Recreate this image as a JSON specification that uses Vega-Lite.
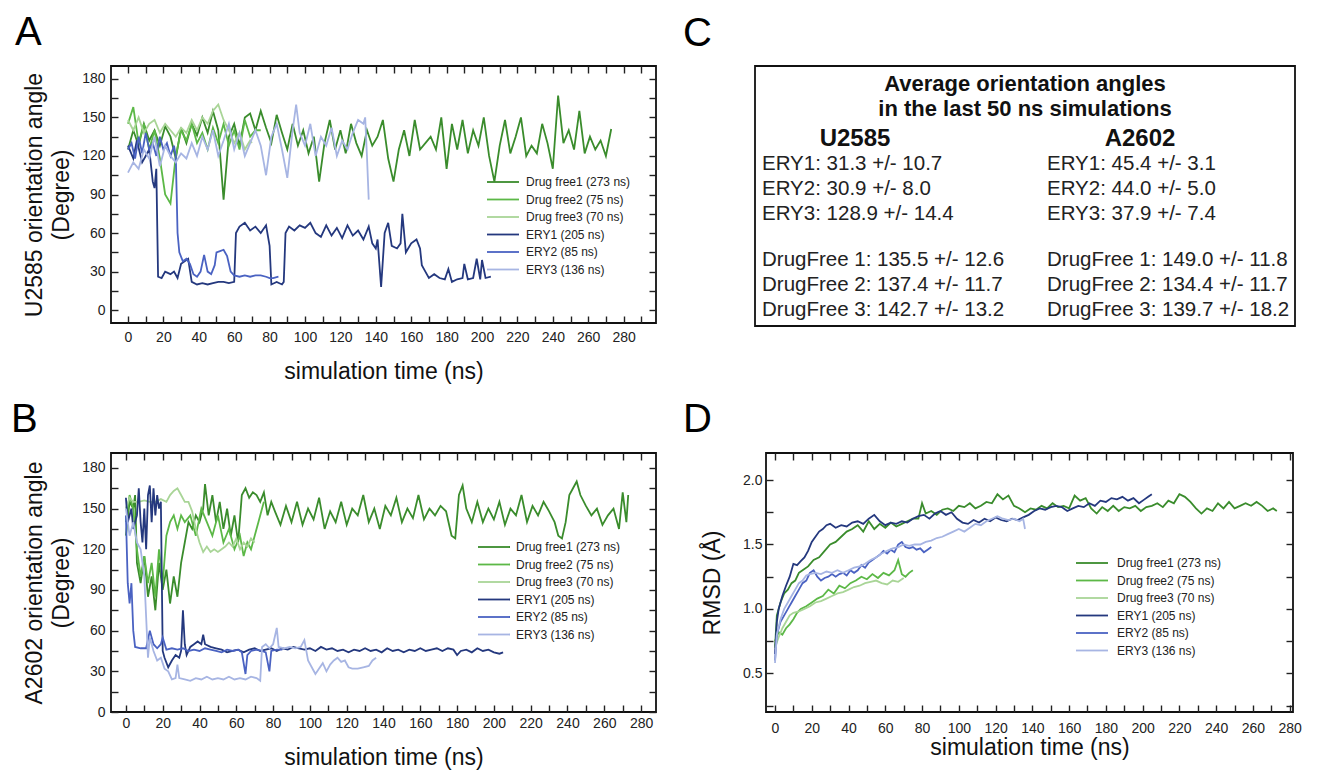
{
"$schema":"https://vega.github.io/schema/vega-lite/v6.json",
"background":"white",
"padding":{"left":10,"top":12,"right":0,"bottom":0},
"config":{
"font":"Liberation Sans",
"view":{"stroke":"#111","strokeWidth":1.8},
"axis":{"grid":false,"domain":false,"ticks":true,"tickColor":"#222","tickSize":-7,"tickWidth":1.4,"labelFontSize":14,"labelColor":"#222","titleFontSize":23,"titleFontWeight":"normal","titleColor":"#111","labelFlush":false,"labelOverlap":false},
"axisX":{"labelPadding":14,"titlePadding":16},
"axisY":{"labelPadding":13,"titlePadding":8},
"legend":{"symbolType":"M-2,0H2","symbolSize":256,"symbolStrokeWidth":2,"labelFontSize":12,"labelColor":"#222","rowPadding":2.5,"padding":0,"labelOffset":14},
"title":{"fontSize":40,"fontWeight":"normal","anchor":"start","frame":"group","color":"#000","offset":12,"baseline":"alphabetic"},
"line":{"strokeWidth":1.8}
},
"datasets":{
"names":[{"s":"d1","name":"Drug free1 (273 ns)"},{"s":"d2","name":"Drug free2 (75 ns)"},{"s":"d3","name":"Drug free3 (70 ns)"},{"s":"e1","name":"ERY1 (205 ns)"},{"s":"e2","name":"ERY2 (85 ns)"},{"s":"e3","name":"ERY3 (136 ns)"}],
"table":[
{"kind":"title","row":"t1","col":"U2585","label":"Average orientation angles"},
{"kind":"title","row":"t2","col":"U2585","label":"in the last 50 ns simulations"},
{"kind":"head","row":"h","col":"U2585","label":"U2585"},
{"kind":"head","row":"h","col":"A2602","label":"A2602"},
{"kind":"ery","row":"e1","col":"U2585","label":"ERY1: 31.3 +/- 10.7"},
{"kind":"ery","row":"e2","col":"U2585","label":"ERY2: 30.9 +/- 8.0"},
{"kind":"ery","row":"e3","col":"U2585","label":"ERY3: 128.9 +/- 14.4"},
{"kind":"free","row":"d1","col":"U2585","label":"DrugFree 1: 135.5 +/- 12.6"},
{"kind":"free","row":"d2","col":"U2585","label":"DrugFree 2: 137.4 +/- 11.7"},
{"kind":"free","row":"d3","col":"U2585","label":"DrugFree 3: 142.7 +/- 13.2"},
{"kind":"ery","row":"e1","col":"A2602","label":"ERY1: 45.4 +/- 3.1"},
{"kind":"ery","row":"e2","col":"A2602","label":"ERY2: 44.0 +/- 5.0"},
{"kind":"ery","row":"e3","col":"A2602","label":"ERY3: 37.9 +/- 7.4"},
{"kind":"free","row":"d1","col":"A2602","label":"DrugFree 1: 149.0 +/- 11.8"},
{"kind":"free","row":"d2","col":"A2602","label":"DrugFree 2: 134.4 +/- 11.7"},
{"kind":"free","row":"d3","col":"A2602","label":"DrugFree 3: 139.7 +/- 18.2"}
],
"A":[
{"s":"d1","t":0,"v":125},{"s":"d1","t":3,"v":140},{"s":"d1","t":6,"v":128},{"s":"d1","t":9,"v":145},{"s":"d1","t":12,"v":132},{"s":"d1","t":15,"v":140},{"s":"d1","t":18,"v":128},{"s":"d1","t":21,"v":143},{"s":"d1","t":24,"v":135},{"s":"d1","t":27,"v":118},{"s":"d1","t":30,"v":142},{"s":"d1","t":33,"v":130},{"s":"d1","t":36,"v":145},{"s":"d1","t":39,"v":136},{"s":"d1","t":42,"v":150},{"s":"d1","t":45,"v":138},{"s":"d1","t":48,"v":155},{"s":"d1","t":51,"v":140},{"s":"d1","t":54,"v":86},{"s":"d1","t":57,"v":135},{"s":"d1","t":60,"v":145},{"s":"d1","t":63,"v":128},{"s":"d1","t":66,"v":150},{"s":"d1","t":69,"v":153},{"s":"d1","t":72,"v":140},{"s":"d1","t":75,"v":155},{"s":"d1","t":78,"v":142},{"s":"d1","t":81,"v":130},{"s":"d1","t":84,"v":152},{"s":"d1","t":87,"v":138},{"s":"d1","t":90,"v":125},{"s":"d1","t":93,"v":145},{"s":"d1","t":96,"v":128},{"s":"d1","t":99,"v":140},{"s":"d1","t":102,"v":122},{"s":"d1","t":105,"v":135},{"s":"d1","t":108,"v":100},{"s":"d1","t":111,"v":130},{"s":"d1","t":114,"v":148},{"s":"d1","t":117,"v":125},{"s":"d1","t":120,"v":140},{"s":"d1","t":123,"v":122},{"s":"d1","t":126,"v":145},{"s":"d1","t":129,"v":130},{"s":"d1","t":132,"v":120},{"s":"d1","t":135,"v":140},{"s":"d1","t":138,"v":128},{"s":"d1","t":141,"v":135},{"s":"d1","t":144,"v":148},{"s":"d1","t":147,"v":118},{"s":"d1","t":150,"v":100},{"s":"d1","t":153,"v":125},{"s":"d1","t":156,"v":140},{"s":"d1","t":159,"v":120},{"s":"d1","t":162,"v":148},{"s":"d1","t":165,"v":125},{"s":"d1","t":168,"v":130},{"s":"d1","t":171,"v":135},{"s":"d1","t":174,"v":125},{"s":"d1","t":177,"v":150},{"s":"d1","t":180,"v":110},{"s":"d1","t":183,"v":145},{"s":"d1","t":186,"v":125},{"s":"d1","t":189,"v":148},{"s":"d1","t":192,"v":122},{"s":"d1","t":195,"v":140},{"s":"d1","t":198,"v":128},{"s":"d1","t":201,"v":150},{"s":"d1","t":204,"v":120},{"s":"d1","t":207,"v":100},{"s":"d1","t":210,"v":128},{"s":"d1","t":213,"v":148},{"s":"d1","t":216,"v":122},{"s":"d1","t":219,"v":135},{"s":"d1","t":222,"v":150},{"s":"d1","t":225,"v":120},{"s":"d1","t":228,"v":128},{"s":"d1","t":231,"v":122},{"s":"d1","t":234,"v":145},{"s":"d1","t":237,"v":130},{"s":"d1","t":240,"v":110},{"s":"d1","t":243,"v":167},{"s":"d1","t":246,"v":130},{"s":"d1","t":249,"v":140},{"s":"d1","t":252,"v":125},{"s":"d1","t":255,"v":155},{"s":"d1","t":258,"v":122},{"s":"d1","t":261,"v":135},{"s":"d1","t":264,"v":125},{"s":"d1","t":267,"v":132},{"s":"d1","t":270,"v":120},{"s":"d1","t":273,"v":141},
{"s":"d2","t":0,"v":145},{"s":"d2","t":3,"v":158},{"s":"d2","t":6,"v":130},{"s":"d2","t":9,"v":145},{"s":"d2","t":12,"v":125},{"s":"d2","t":15,"v":140},{"s":"d2","t":18,"v":118},{"s":"d2","t":21,"v":90},{"s":"d2","t":24,"v":83},{"s":"d2","t":27,"v":120},{"s":"d2","t":30,"v":140},{"s":"d2","t":33,"v":132},{"s":"d2","t":36,"v":145},{"s":"d2","t":39,"v":130},{"s":"d2","t":42,"v":138},{"s":"d2","t":45,"v":125},{"s":"d2","t":48,"v":142},{"s":"d2","t":51,"v":130},{"s":"d2","t":54,"v":145},{"s":"d2","t":57,"v":128},{"s":"d2","t":60,"v":140},{"s":"d2","t":63,"v":125},{"s":"d2","t":66,"v":148},{"s":"d2","t":69,"v":135},{"s":"d2","t":72,"v":140},{"s":"d2","t":75,"v":140},
{"s":"d3","t":0,"v":148},{"s":"d3","t":3,"v":140},{"s":"d3","t":6,"v":150},{"s":"d3","t":9,"v":138},{"s":"d3","t":12,"v":145},{"s":"d3","t":15,"v":148},{"s":"d3","t":18,"v":138},{"s":"d3","t":21,"v":145},{"s":"d3","t":24,"v":140},{"s":"d3","t":27,"v":135},{"s":"d3","t":30,"v":142},{"s":"d3","t":33,"v":138},{"s":"d3","t":36,"v":148},{"s":"d3","t":39,"v":140},{"s":"d3","t":42,"v":150},{"s":"d3","t":45,"v":145},{"s":"d3","t":48,"v":155},{"s":"d3","t":51,"v":160},{"s":"d3","t":54,"v":148},{"s":"d3","t":57,"v":140},{"s":"d3","t":60,"v":130},{"s":"d3","t":63,"v":138},{"s":"d3","t":66,"v":125},{"s":"d3","t":69,"v":132},{"s":"d3","t":70,"v":130},
{"s":"e1","t":0,"v":128},{"s":"e1","t":3,"v":118},{"s":"e1","t":5,"v":132},{"s":"e1","t":8,"v":115},{"s":"e1","t":10,"v":120},{"s":"e1","t":12,"v":125},{"s":"e1","t":14,"v":100},{"s":"e1","t":15,"v":95},{"s":"e1","t":16,"v":110},{"s":"e1","t":17,"v":26},{"s":"e1","t":19,"v":25},{"s":"e1","t":21,"v":30},{"s":"e1","t":24,"v":28},{"s":"e1","t":26,"v":30},{"s":"e1","t":28,"v":25},{"s":"e1","t":30,"v":36},{"s":"e1","t":32,"v":38},{"s":"e1","t":34,"v":40},{"s":"e1","t":36,"v":22},{"s":"e1","t":39,"v":20},{"s":"e1","t":42,"v":21},{"s":"e1","t":45,"v":20},{"s":"e1","t":48,"v":21},{"s":"e1","t":51,"v":22},{"s":"e1","t":54,"v":22},{"s":"e1","t":57,"v":21},{"s":"e1","t":60,"v":22},{"s":"e1","t":61,"v":60},{"s":"e1","t":63,"v":65},{"s":"e1","t":66,"v":68},{"s":"e1","t":69,"v":62},{"s":"e1","t":72,"v":65},{"s":"e1","t":75,"v":60},{"s":"e1","t":78,"v":66},{"s":"e1","t":80,"v":50},{"s":"e1","t":81,"v":20},{"s":"e1","t":84,"v":22},{"s":"e1","t":87,"v":20},{"s":"e1","t":88,"v":22},{"s":"e1","t":89,"v":60},{"s":"e1","t":91,"v":65},{"s":"e1","t":94,"v":62},{"s":"e1","t":97,"v":66},{"s":"e1","t":100,"v":64},{"s":"e1","t":103,"v":68},{"s":"e1","t":106,"v":60},{"s":"e1","t":109,"v":57},{"s":"e1","t":112,"v":66},{"s":"e1","t":115,"v":58},{"s":"e1","t":118,"v":64},{"s":"e1","t":121,"v":56},{"s":"e1","t":124,"v":66},{"s":"e1","t":127,"v":58},{"s":"e1","t":130,"v":62},{"s":"e1","t":133,"v":55},{"s":"e1","t":136,"v":65},{"s":"e1","t":138,"v":52},{"s":"e1","t":140,"v":48},{"s":"e1","t":141,"v":55},{"s":"e1","t":143,"v":18},{"s":"e1","t":145,"v":60},{"s":"e1","t":147,"v":68},{"s":"e1","t":149,"v":50},{"s":"e1","t":152,"v":48},{"s":"e1","t":154,"v":52},{"s":"e1","t":155,"v":75},{"s":"e1","t":157,"v":45},{"s":"e1","t":160,"v":52},{"s":"e1","t":163,"v":55},{"s":"e1","t":165,"v":48},{"s":"e1","t":166,"v":35},{"s":"e1","t":168,"v":30},{"s":"e1","t":170,"v":25},{"s":"e1","t":173,"v":28},{"s":"e1","t":176,"v":25},{"s":"e1","t":179,"v":24},{"s":"e1","t":181,"v":32},{"s":"e1","t":183,"v":22},{"s":"e1","t":186,"v":24},{"s":"e1","t":189,"v":25},{"s":"e1","t":190,"v":36},{"s":"e1","t":192,"v":24},{"s":"e1","t":195,"v":25},{"s":"e1","t":197,"v":40},{"s":"e1","t":199,"v":24},{"s":"e1","t":200,"v":39},{"s":"e1","t":202,"v":25},{"s":"e1","t":205,"v":26},
{"s":"e2","t":0,"v":125},{"s":"e2","t":2,"v":130},{"s":"e2","t":4,"v":118},{"s":"e2","t":6,"v":135},{"s":"e2","t":8,"v":122},{"s":"e2","t":10,"v":138},{"s":"e2","t":12,"v":125},{"s":"e2","t":14,"v":130},{"s":"e2","t":16,"v":120},{"s":"e2","t":18,"v":135},{"s":"e2","t":20,"v":125},{"s":"e2","t":22,"v":130},{"s":"e2","t":24,"v":120},{"s":"e2","t":26,"v":128},{"s":"e2","t":27,"v":120},{"s":"e2","t":28,"v":60},{"s":"e2","t":29,"v":45},{"s":"e2","t":31,"v":38},{"s":"e2","t":33,"v":40},{"s":"e2","t":35,"v":36},{"s":"e2","t":37,"v":28},{"s":"e2","t":39,"v":26},{"s":"e2","t":41,"v":30},{"s":"e2","t":43,"v":43},{"s":"e2","t":45,"v":30},{"s":"e2","t":47,"v":28},{"s":"e2","t":49,"v":35},{"s":"e2","t":50,"v":45},{"s":"e2","t":52,"v":46},{"s":"e2","t":54,"v":47},{"s":"e2","t":56,"v":42},{"s":"e2","t":58,"v":30},{"s":"e2","t":60,"v":27},{"s":"e2","t":63,"v":26},{"s":"e2","t":66,"v":27},{"s":"e2","t":69,"v":26},{"s":"e2","t":72,"v":27},{"s":"e2","t":75,"v":27},{"s":"e2","t":78,"v":26},{"s":"e2","t":80,"v":25},{"s":"e2","t":82,"v":25},{"s":"e2","t":85,"v":26},
{"s":"e3","t":0,"v":107},{"s":"e3","t":3,"v":115},{"s":"e3","t":6,"v":110},{"s":"e3","t":9,"v":125},{"s":"e3","t":12,"v":118},{"s":"e3","t":15,"v":135},{"s":"e3","t":18,"v":112},{"s":"e3","t":21,"v":128},{"s":"e3","t":24,"v":120},{"s":"e3","t":27,"v":115},{"s":"e3","t":30,"v":122},{"s":"e3","t":33,"v":118},{"s":"e3","t":36,"v":130},{"s":"e3","t":39,"v":120},{"s":"e3","t":42,"v":135},{"s":"e3","t":45,"v":125},{"s":"e3","t":48,"v":140},{"s":"e3","t":51,"v":120},{"s":"e3","t":54,"v":132},{"s":"e3","t":57,"v":145},{"s":"e3","t":60,"v":125},{"s":"e3","t":63,"v":138},{"s":"e3","t":66,"v":120},{"s":"e3","t":69,"v":130},{"s":"e3","t":72,"v":140},{"s":"e3","t":75,"v":128},{"s":"e3","t":78,"v":105},{"s":"e3","t":81,"v":135},{"s":"e3","t":84,"v":145},{"s":"e3","t":87,"v":125},{"s":"e3","t":90,"v":103},{"s":"e3","t":93,"v":140},{"s":"e3","t":95,"v":160},{"s":"e3","t":97,"v":138},{"s":"e3","t":100,"v":128},{"s":"e3","t":103,"v":145},{"s":"e3","t":106,"v":120},{"s":"e3","t":109,"v":135},{"s":"e3","t":112,"v":128},{"s":"e3","t":115,"v":142},{"s":"e3","t":118,"v":120},{"s":"e3","t":121,"v":132},{"s":"e3","t":124,"v":125},{"s":"e3","t":127,"v":138},{"s":"e3","t":130,"v":148},{"s":"e3","t":133,"v":145},{"s":"e3","t":134,"v":150},{"s":"e3","t":135,"v":120},{"s":"e3","t":136,"v":86}
],
"B":[
{"s":"d1","t":0,"v":130},{"s":"d1","t":2,"v":155},{"s":"d1","t":4,"v":150},{"s":"d1","t":5,"v":160},{"s":"d1","t":6,"v":110},{"s":"d1","t":8,"v":95},{"s":"d1","t":10,"v":115},{"s":"d1","t":12,"v":85},{"s":"d1","t":14,"v":100},{"s":"d1","t":16,"v":75},{"s":"d1","t":18,"v":110},{"s":"d1","t":20,"v":90},{"s":"d1","t":22,"v":105},{"s":"d1","t":24,"v":80},{"s":"d1","t":26,"v":100},{"s":"d1","t":28,"v":85},{"s":"d1","t":30,"v":110},{"s":"d1","t":32,"v":125},{"s":"d1","t":34,"v":140},{"s":"d1","t":36,"v":135},{"s":"d1","t":38,"v":145},{"s":"d1","t":40,"v":140},{"s":"d1","t":42,"v":150},{"s":"d1","t":43,"v":168},{"s":"d1","t":45,"v":145},{"s":"d1","t":47,"v":160},{"s":"d1","t":49,"v":140},{"s":"d1","t":51,"v":155},{"s":"d1","t":53,"v":135},{"s":"d1","t":55,"v":150},{"s":"d1","t":57,"v":130},{"s":"d1","t":59,"v":145},{"s":"d1","t":61,"v":125},{"s":"d1","t":63,"v":160},{"s":"d1","t":65,"v":165},{"s":"d1","t":67,"v":158},{"s":"d1","t":69,"v":162},{"s":"d1","t":71,"v":160},{"s":"d1","t":73,"v":155},{"s":"d1","t":75,"v":162},{"s":"d1","t":77,"v":145},{"s":"d1","t":79,"v":155},{"s":"d1","t":81,"v":148},{"s":"d1","t":84,"v":138},{"s":"d1","t":87,"v":152},{"s":"d1","t":90,"v":140},{"s":"d1","t":93,"v":155},{"s":"d1","t":96,"v":138},{"s":"d1","t":99,"v":150},{"s":"d1","t":102,"v":142},{"s":"d1","t":105,"v":158},{"s":"d1","t":108,"v":135},{"s":"d1","t":111,"v":148},{"s":"d1","t":114,"v":140},{"s":"d1","t":117,"v":155},{"s":"d1","t":120,"v":138},{"s":"d1","t":123,"v":150},{"s":"d1","t":126,"v":145},{"s":"d1","t":129,"v":160},{"s":"d1","t":132,"v":140},{"s":"d1","t":135,"v":150},{"s":"d1","t":138,"v":135},{"s":"d1","t":141,"v":152},{"s":"d1","t":144,"v":145},{"s":"d1","t":147,"v":158},{"s":"d1","t":150,"v":140},{"s":"d1","t":153,"v":150},{"s":"d1","t":156,"v":143},{"s":"d1","t":159,"v":160},{"s":"d1","t":162,"v":142},{"s":"d1","t":165,"v":150},{"s":"d1","t":168,"v":145},{"s":"d1","t":171,"v":152},{"s":"d1","t":174,"v":148},{"s":"d1","t":177,"v":130},{"s":"d1","t":179,"v":128},{"s":"d1","t":181,"v":160},{"s":"d1","t":183,"v":167},{"s":"d1","t":185,"v":150},{"s":"d1","t":188,"v":140},{"s":"d1","t":191,"v":155},{"s":"d1","t":194,"v":140},{"s":"d1","t":197,"v":150},{"s":"d1","t":200,"v":142},{"s":"d1","t":203,"v":155},{"s":"d1","t":206,"v":138},{"s":"d1","t":209,"v":150},{"s":"d1","t":212,"v":145},{"s":"d1","t":215,"v":160},{"s":"d1","t":218,"v":140},{"s":"d1","t":221,"v":152},{"s":"d1","t":224,"v":145},{"s":"d1","t":227,"v":155},{"s":"d1","t":230,"v":148},{"s":"d1","t":233,"v":140},{"s":"d1","t":235,"v":130},{"s":"d1","t":237,"v":128},{"s":"d1","t":239,"v":140},{"s":"d1","t":241,"v":160},{"s":"d1","t":243,"v":165},{"s":"d1","t":245,"v":170},{"s":"d1","t":247,"v":160},{"s":"d1","t":250,"v":152},{"s":"d1","t":253,"v":145},{"s":"d1","t":256,"v":150},{"s":"d1","t":259,"v":138},{"s":"d1","t":262,"v":145},{"s":"d1","t":265,"v":150},{"s":"d1","t":268,"v":135},{"s":"d1","t":270,"v":162},{"s":"d1","t":272,"v":140},{"s":"d1","t":273,"v":160},
{"s":"d2","t":0,"v":140},{"s":"d2","t":2,"v":160},{"s":"d2","t":4,"v":150},{"s":"d2","t":6,"v":120},{"s":"d2","t":8,"v":100},{"s":"d2","t":10,"v":115},{"s":"d2","t":12,"v":95},{"s":"d2","t":14,"v":110},{"s":"d2","t":16,"v":85},{"s":"d2","t":18,"v":120},{"s":"d2","t":20,"v":95},{"s":"d2","t":22,"v":130},{"s":"d2","t":24,"v":140},{"s":"d2","t":26,"v":145},{"s":"d2","t":28,"v":135},{"s":"d2","t":30,"v":145},{"s":"d2","t":32,"v":140},{"s":"d2","t":35,"v":145},{"s":"d2","t":38,"v":130},{"s":"d2","t":41,"v":150},{"s":"d2","t":44,"v":140},{"s":"d2","t":47,"v":130},{"s":"d2","t":50,"v":145},{"s":"d2","t":53,"v":125},{"s":"d2","t":56,"v":135},{"s":"d2","t":59,"v":120},{"s":"d2","t":62,"v":130},{"s":"d2","t":64,"v":115},{"s":"d2","t":66,"v":125},{"s":"d2","t":68,"v":120},{"s":"d2","t":70,"v":130},{"s":"d2","t":72,"v":140},{"s":"d2","t":74,"v":150},{"s":"d2","t":75,"v":155},
{"s":"d3","t":0,"v":150},{"s":"d3","t":2,"v":158},{"s":"d3","t":4,"v":155},{"s":"d3","t":7,"v":155},{"s":"d3","t":10,"v":156},{"s":"d3","t":13,"v":155},{"s":"d3","t":16,"v":155},{"s":"d3","t":19,"v":157},{"s":"d3","t":22,"v":155},{"s":"d3","t":24,"v":160},{"s":"d3","t":26,"v":163},{"s":"d3","t":28,"v":165},{"s":"d3","t":30,"v":160},{"s":"d3","t":32,"v":155},{"s":"d3","t":34,"v":155},{"s":"d3","t":36,"v":148},{"s":"d3","t":38,"v":135},{"s":"d3","t":40,"v":125},{"s":"d3","t":42,"v":118},{"s":"d3","t":44,"v":122},{"s":"d3","t":46,"v":118},{"s":"d3","t":48,"v":120},{"s":"d3","t":50,"v":118},{"s":"d3","t":52,"v":120},{"s":"d3","t":54,"v":122},{"s":"d3","t":56,"v":125},{"s":"d3","t":58,"v":122},{"s":"d3","t":60,"v":128},{"s":"d3","t":62,"v":120},{"s":"d3","t":64,"v":125},{"s":"d3","t":66,"v":122},{"s":"d3","t":68,"v":128},{"s":"d3","t":70,"v":125},
{"s":"e1","t":0,"v":158},{"s":"e1","t":1,"v":140},{"s":"e1","t":3,"v":150},{"s":"e1","t":4,"v":135},{"s":"e1","t":6,"v":145},{"s":"e1","t":7,"v":165},{"s":"e1","t":8,"v":140},{"s":"e1","t":9,"v":125},{"s":"e1","t":10,"v":150},{"s":"e1","t":11,"v":120},{"s":"e1","t":12,"v":160},{"s":"e1","t":13,"v":167},{"s":"e1","t":14,"v":140},{"s":"e1","t":15,"v":165},{"s":"e1","t":16,"v":145},{"s":"e1","t":17,"v":160},{"s":"e1","t":18,"v":150},{"s":"e1","t":19,"v":155},{"s":"e1","t":20,"v":45},{"s":"e1","t":21,"v":40},{"s":"e1","t":23,"v":33},{"s":"e1","t":25,"v":38},{"s":"e1","t":27,"v":42},{"s":"e1","t":29,"v":40},{"s":"e1","t":30,"v":45},{"s":"e1","t":31,"v":75},{"s":"e1","t":32,"v":50},{"s":"e1","t":33,"v":42},{"s":"e1","t":35,"v":48},{"s":"e1","t":37,"v":50},{"s":"e1","t":39,"v":52},{"s":"e1","t":41,"v":50},{"s":"e1","t":42,"v":57},{"s":"e1","t":43,"v":50},{"s":"e1","t":46,"v":48},{"s":"e1","t":49,"v":47},{"s":"e1","t":52,"v":46},{"s":"e1","t":55,"v":44},{"s":"e1","t":58,"v":45},{"s":"e1","t":61,"v":46},{"s":"e1","t":64,"v":44},{"s":"e1","t":67,"v":46},{"s":"e1","t":70,"v":47},{"s":"e1","t":73,"v":45},{"s":"e1","t":76,"v":46},{"s":"e1","t":79,"v":47},{"s":"e1","t":82,"v":45},{"s":"e1","t":85,"v":47},{"s":"e1","t":88,"v":46},{"s":"e1","t":91,"v":48},{"s":"e1","t":94,"v":47},{"s":"e1","t":97,"v":46},{"s":"e1","t":100,"v":47},{"s":"e1","t":103,"v":45},{"s":"e1","t":106,"v":48},{"s":"e1","t":109,"v":46},{"s":"e1","t":112,"v":47},{"s":"e1","t":115,"v":45},{"s":"e1","t":118,"v":46},{"s":"e1","t":121,"v":44},{"s":"e1","t":124,"v":46},{"s":"e1","t":127,"v":45},{"s":"e1","t":130,"v":47},{"s":"e1","t":133,"v":45},{"s":"e1","t":136,"v":46},{"s":"e1","t":139,"v":44},{"s":"e1","t":142,"v":47},{"s":"e1","t":145,"v":45},{"s":"e1","t":148,"v":46},{"s":"e1","t":151,"v":44},{"s":"e1","t":154,"v":46},{"s":"e1","t":157,"v":45},{"s":"e1","t":160,"v":47},{"s":"e1","t":163,"v":45},{"s":"e1","t":166,"v":46},{"s":"e1","t":169,"v":47},{"s":"e1","t":172,"v":45},{"s":"e1","t":175,"v":47},{"s":"e1","t":178,"v":46},{"s":"e1","t":180,"v":42},{"s":"e1","t":182,"v":45},{"s":"e1","t":185,"v":46},{"s":"e1","t":188,"v":44},{"s":"e1","t":191,"v":47},{"s":"e1","t":194,"v":45},{"s":"e1","t":197,"v":46},{"s":"e1","t":200,"v":44},{"s":"e1","t":203,"v":43},{"s":"e1","t":205,"v":44},
{"s":"e2","t":0,"v":145},{"s":"e2","t":1,"v":95},{"s":"e2","t":2,"v":80},{"s":"e2","t":3,"v":95},{"s":"e2","t":4,"v":60},{"s":"e2","t":5,"v":48},{"s":"e2","t":8,"v":47},{"s":"e2","t":11,"v":47},{"s":"e2","t":13,"v":60},{"s":"e2","t":15,"v":50},{"s":"e2","t":17,"v":47},{"s":"e2","t":19,"v":50},{"s":"e2","t":20,"v":55},{"s":"e2","t":22,"v":46},{"s":"e2","t":25,"v":47},{"s":"e2","t":28,"v":46},{"s":"e2","t":31,"v":47},{"s":"e2","t":34,"v":45},{"s":"e2","t":37,"v":46},{"s":"e2","t":40,"v":45},{"s":"e2","t":43,"v":47},{"s":"e2","t":46,"v":46},{"s":"e2","t":49,"v":45},{"s":"e2","t":52,"v":44},{"s":"e2","t":55,"v":46},{"s":"e2","t":58,"v":45},{"s":"e2","t":61,"v":46},{"s":"e2","t":63,"v":44},{"s":"e2","t":65,"v":28},{"s":"e2","t":66,"v":42},{"s":"e2","t":68,"v":45},{"s":"e2","t":71,"v":46},{"s":"e2","t":74,"v":45},{"s":"e2","t":76,"v":44},{"s":"e2","t":78,"v":30},{"s":"e2","t":79,"v":45},{"s":"e2","t":82,"v":46},{"s":"e2","t":85,"v":46},
{"s":"e3","t":0,"v":150},{"s":"e3","t":2,"v":130},{"s":"e3","t":4,"v":140},{"s":"e3","t":6,"v":125},{"s":"e3","t":8,"v":120},{"s":"e3","t":10,"v":100},{"s":"e3","t":11,"v":70},{"s":"e3","t":12,"v":40},{"s":"e3","t":13,"v":55},{"s":"e3","t":15,"v":45},{"s":"e3","t":17,"v":38},{"s":"e3","t":19,"v":40},{"s":"e3","t":21,"v":32},{"s":"e3","t":23,"v":30},{"s":"e3","t":25,"v":24},{"s":"e3","t":27,"v":25},{"s":"e3","t":28,"v":35},{"s":"e3","t":29,"v":25},{"s":"e3","t":32,"v":24},{"s":"e3","t":35,"v":23},{"s":"e3","t":38,"v":25},{"s":"e3","t":41,"v":24},{"s":"e3","t":44,"v":26},{"s":"e3","t":47,"v":24},{"s":"e3","t":50,"v":25},{"s":"e3","t":53,"v":24},{"s":"e3","t":56,"v":26},{"s":"e3","t":59,"v":24},{"s":"e3","t":62,"v":25},{"s":"e3","t":65,"v":24},{"s":"e3","t":68,"v":26},{"s":"e3","t":71,"v":25},{"s":"e3","t":73,"v":23},{"s":"e3","t":74,"v":48},{"s":"e3","t":76,"v":50},{"s":"e3","t":78,"v":47},{"s":"e3","t":80,"v":50},{"s":"e3","t":82,"v":62},{"s":"e3","t":83,"v":48},{"s":"e3","t":86,"v":47},{"s":"e3","t":89,"v":48},{"s":"e3","t":92,"v":47},{"s":"e3","t":95,"v":48},{"s":"e3","t":97,"v":53},{"s":"e3","t":99,"v":38},{"s":"e3","t":101,"v":33},{"s":"e3","t":103,"v":28},{"s":"e3","t":105,"v":32},{"s":"e3","t":107,"v":36},{"s":"e3","t":109,"v":30},{"s":"e3","t":111,"v":35},{"s":"e3","t":113,"v":38},{"s":"e3","t":115,"v":40},{"s":"e3","t":117,"v":37},{"s":"e3","t":119,"v":38},{"s":"e3","t":121,"v":33},{"s":"e3","t":123,"v":32},{"s":"e3","t":126,"v":32},{"s":"e3","t":129,"v":33},{"s":"e3","t":132,"v":34},{"s":"e3","t":134,"v":38},{"s":"e3","t":136,"v":40}
],
"D":[
{"s":"d1","t":0,"v":0.7},{"s":"d1","t":1,"v":0.95},{"s":"d1","t":3,"v":1.05},{"s":"d1","t":5,"v":1.12},{"s":"d1","t":7,"v":1.15},{"s":"d1","t":9,"v":1.2},{"s":"d1","t":11,"v":1.22},{"s":"d1","t":13,"v":1.28},{"s":"d1","t":15,"v":1.3},{"s":"d1","t":18,"v":1.33},{"s":"d1","t":21,"v":1.38},{"s":"d1","t":24,"v":1.4},{"s":"d1","t":27,"v":1.45},{"s":"d1","t":30,"v":1.5},{"s":"d1","t":33,"v":1.52},{"s":"d1","t":36,"v":1.56},{"s":"d1","t":39,"v":1.6},{"s":"d1","t":42,"v":1.62},{"s":"d1","t":45,"v":1.65},{"s":"d1","t":48,"v":1.6},{"s":"d1","t":51,"v":1.68},{"s":"d1","t":54,"v":1.62},{"s":"d1","t":57,"v":1.66},{"s":"d1","t":60,"v":1.63},{"s":"d1","t":63,"v":1.67},{"s":"d1","t":66,"v":1.64},{"s":"d1","t":69,"v":1.66},{"s":"d1","t":72,"v":1.68},{"s":"d1","t":75,"v":1.7},{"s":"d1","t":78,"v":1.7},{"s":"d1","t":80,"v":1.82},{"s":"d1","t":82,"v":1.74},{"s":"d1","t":85,"v":1.76},{"s":"d1","t":88,"v":1.73},{"s":"d1","t":91,"v":1.77},{"s":"d1","t":94,"v":1.78},{"s":"d1","t":97,"v":1.76},{"s":"d1","t":100,"v":1.8},{"s":"d1","t":103,"v":1.79},{"s":"d1","t":106,"v":1.82},{"s":"d1","t":109,"v":1.78},{"s":"d1","t":112,"v":1.8},{"s":"d1","t":115,"v":1.83},{"s":"d1","t":118,"v":1.82},{"s":"d1","t":121,"v":1.89},{"s":"d1","t":124,"v":1.85},{"s":"d1","t":127,"v":1.88},{"s":"d1","t":130,"v":1.8},{"s":"d1","t":133,"v":1.78},{"s":"d1","t":136,"v":1.75},{"s":"d1","t":139,"v":1.78},{"s":"d1","t":142,"v":1.77},{"s":"d1","t":145,"v":1.8},{"s":"d1","t":148,"v":1.78},{"s":"d1","t":151,"v":1.82},{"s":"d1","t":154,"v":1.79},{"s":"d1","t":157,"v":1.8},{"s":"d1","t":160,"v":1.78},{"s":"d1","t":163,"v":1.88},{"s":"d1","t":166,"v":1.84},{"s":"d1","t":169,"v":1.86},{"s":"d1","t":172,"v":1.78},{"s":"d1","t":175,"v":1.74},{"s":"d1","t":178,"v":1.79},{"s":"d1","t":181,"v":1.76},{"s":"d1","t":184,"v":1.8},{"s":"d1","t":187,"v":1.76},{"s":"d1","t":190,"v":1.79},{"s":"d1","t":193,"v":1.78},{"s":"d1","t":196,"v":1.8},{"s":"d1","t":199,"v":1.76},{"s":"d1","t":202,"v":1.79},{"s":"d1","t":205,"v":1.8},{"s":"d1","t":208,"v":1.82},{"s":"d1","t":211,"v":1.79},{"s":"d1","t":214,"v":1.84},{"s":"d1","t":217,"v":1.82},{"s":"d1","t":220,"v":1.89},{"s":"d1","t":223,"v":1.87},{"s":"d1","t":226,"v":1.83},{"s":"d1","t":229,"v":1.78},{"s":"d1","t":232,"v":1.74},{"s":"d1","t":235,"v":1.78},{"s":"d1","t":238,"v":1.76},{"s":"d1","t":241,"v":1.82},{"s":"d1","t":244,"v":1.78},{"s":"d1","t":247,"v":1.83},{"s":"d1","t":250,"v":1.78},{"s":"d1","t":253,"v":1.8},{"s":"d1","t":256,"v":1.82},{"s":"d1","t":259,"v":1.8},{"s":"d1","t":262,"v":1.83},{"s":"d1","t":265,"v":1.8},{"s":"d1","t":268,"v":1.76},{"s":"d1","t":271,"v":1.78},{"s":"d1","t":273,"v":1.76},
{"s":"d2","t":0,"v":0.75},{"s":"d2","t":2,"v":0.82},{"s":"d2","t":4,"v":0.8},{"s":"d2","t":6,"v":0.85},{"s":"d2","t":8,"v":0.88},{"s":"d2","t":10,"v":0.92},{"s":"d2","t":12,"v":0.97},{"s":"d2","t":14,"v":1.0},{"s":"d2","t":17,"v":1.02},{"s":"d2","t":20,"v":1.05},{"s":"d2","t":23,"v":1.08},{"s":"d2","t":26,"v":1.1},{"s":"d2","t":29,"v":1.15},{"s":"d2","t":32,"v":1.12},{"s":"d2","t":35,"v":1.18},{"s":"d2","t":38,"v":1.16},{"s":"d2","t":41,"v":1.2},{"s":"d2","t":44,"v":1.22},{"s":"d2","t":47,"v":1.25},{"s":"d2","t":50,"v":1.23},{"s":"d2","t":53,"v":1.27},{"s":"d2","t":56,"v":1.24},{"s":"d2","t":59,"v":1.28},{"s":"d2","t":62,"v":1.26},{"s":"d2","t":65,"v":1.3},{"s":"d2","t":67,"v":1.38},{"s":"d2","t":69,"v":1.27},{"s":"d2","t":71,"v":1.25},{"s":"d2","t":73,"v":1.28},{"s":"d2","t":75,"v":1.3},
{"s":"d3","t":0,"v":0.7},{"s":"d3","t":2,"v":0.78},{"s":"d3","t":4,"v":0.85},{"s":"d3","t":6,"v":0.9},{"s":"d3","t":8,"v":0.95},{"s":"d3","t":10,"v":0.97},{"s":"d3","t":13,"v":0.98},{"s":"d3","t":16,"v":1.0},{"s":"d3","t":19,"v":1.02},{"s":"d3","t":22,"v":1.05},{"s":"d3","t":25,"v":1.06},{"s":"d3","t":28,"v":1.08},{"s":"d3","t":31,"v":1.1},{"s":"d3","t":34,"v":1.12},{"s":"d3","t":37,"v":1.13},{"s":"d3","t":40,"v":1.15},{"s":"d3","t":43,"v":1.17},{"s":"d3","t":46,"v":1.18},{"s":"d3","t":49,"v":1.2},{"s":"d3","t":52,"v":1.21},{"s":"d3","t":55,"v":1.22},{"s":"d3","t":58,"v":1.2},{"s":"d3","t":61,"v":1.19},{"s":"d3","t":64,"v":1.22},{"s":"d3","t":67,"v":1.21},{"s":"d3","t":70,"v":1.24},
{"s":"e1","t":0,"v":0.65},{"s":"e1","t":1,"v":0.9},{"s":"e1","t":2,"v":1.0},{"s":"e1","t":4,"v":1.1},{"s":"e1","t":6,"v":1.18},{"s":"e1","t":8,"v":1.25},{"s":"e1","t":10,"v":1.35},{"s":"e1","t":12,"v":1.34},{"s":"e1","t":14,"v":1.37},{"s":"e1","t":16,"v":1.4},{"s":"e1","t":18,"v":1.45},{"s":"e1","t":20,"v":1.52},{"s":"e1","t":22,"v":1.56},{"s":"e1","t":24,"v":1.6},{"s":"e1","t":26,"v":1.62},{"s":"e1","t":28,"v":1.65},{"s":"e1","t":30,"v":1.66},{"s":"e1","t":33,"v":1.63},{"s":"e1","t":36,"v":1.65},{"s":"e1","t":39,"v":1.64},{"s":"e1","t":42,"v":1.67},{"s":"e1","t":45,"v":1.68},{"s":"e1","t":48,"v":1.66},{"s":"e1","t":51,"v":1.7},{"s":"e1","t":54,"v":1.73},{"s":"e1","t":57,"v":1.68},{"s":"e1","t":60,"v":1.65},{"s":"e1","t":63,"v":1.67},{"s":"e1","t":66,"v":1.66},{"s":"e1","t":69,"v":1.68},{"s":"e1","t":72,"v":1.67},{"s":"e1","t":75,"v":1.7},{"s":"e1","t":78,"v":1.72},{"s":"e1","t":81,"v":1.73},{"s":"e1","t":84,"v":1.7},{"s":"e1","t":87,"v":1.74},{"s":"e1","t":90,"v":1.76},{"s":"e1","t":93,"v":1.73},{"s":"e1","t":96,"v":1.75},{"s":"e1","t":99,"v":1.7},{"s":"e1","t":102,"v":1.67},{"s":"e1","t":105,"v":1.66},{"s":"e1","t":108,"v":1.69},{"s":"e1","t":111,"v":1.67},{"s":"e1","t":114,"v":1.7},{"s":"e1","t":117,"v":1.68},{"s":"e1","t":120,"v":1.71},{"s":"e1","t":123,"v":1.69},{"s":"e1","t":126,"v":1.68},{"s":"e1","t":129,"v":1.7},{"s":"e1","t":132,"v":1.69},{"s":"e1","t":135,"v":1.71},{"s":"e1","t":138,"v":1.73},{"s":"e1","t":141,"v":1.76},{"s":"e1","t":144,"v":1.78},{"s":"e1","t":147,"v":1.77},{"s":"e1","t":150,"v":1.79},{"s":"e1","t":153,"v":1.8},{"s":"e1","t":156,"v":1.79},{"s":"e1","t":159,"v":1.76},{"s":"e1","t":162,"v":1.78},{"s":"e1","t":165,"v":1.8},{"s":"e1","t":168,"v":1.79},{"s":"e1","t":171,"v":1.82},{"s":"e1","t":174,"v":1.8},{"s":"e1","t":177,"v":1.84},{"s":"e1","t":180,"v":1.83},{"s":"e1","t":183,"v":1.86},{"s":"e1","t":186,"v":1.85},{"s":"e1","t":189,"v":1.87},{"s":"e1","t":192,"v":1.84},{"s":"e1","t":195,"v":1.86},{"s":"e1","t":198,"v":1.82},{"s":"e1","t":201,"v":1.85},{"s":"e1","t":203,"v":1.87},{"s":"e1","t":205,"v":1.89},
{"s":"e2","t":0,"v":0.6},{"s":"e2","t":1,"v":0.8},{"s":"e2","t":3,"v":0.9},{"s":"e2","t":5,"v":0.95},{"s":"e2","t":7,"v":1.0},{"s":"e2","t":9,"v":1.05},{"s":"e2","t":11,"v":1.1},{"s":"e2","t":13,"v":1.15},{"s":"e2","t":15,"v":1.2},{"s":"e2","t":17,"v":1.22},{"s":"e2","t":19,"v":1.28},{"s":"e2","t":21,"v":1.3},{"s":"e2","t":23,"v":1.25},{"s":"e2","t":25,"v":1.22},{"s":"e2","t":27,"v":1.24},{"s":"e2","t":29,"v":1.25},{"s":"e2","t":31,"v":1.27},{"s":"e2","t":33,"v":1.25},{"s":"e2","t":35,"v":1.27},{"s":"e2","t":37,"v":1.28},{"s":"e2","t":39,"v":1.26},{"s":"e2","t":41,"v":1.3},{"s":"e2","t":43,"v":1.28},{"s":"e2","t":45,"v":1.3},{"s":"e2","t":47,"v":1.34},{"s":"e2","t":49,"v":1.32},{"s":"e2","t":51,"v":1.36},{"s":"e2","t":53,"v":1.38},{"s":"e2","t":55,"v":1.4},{"s":"e2","t":57,"v":1.42},{"s":"e2","t":59,"v":1.45},{"s":"e2","t":61,"v":1.43},{"s":"e2","t":63,"v":1.46},{"s":"e2","t":65,"v":1.44},{"s":"e2","t":67,"v":1.5},{"s":"e2","t":69,"v":1.52},{"s":"e2","t":71,"v":1.48},{"s":"e2","t":73,"v":1.47},{"s":"e2","t":75,"v":1.48},{"s":"e2","t":77,"v":1.46},{"s":"e2","t":79,"v":1.47},{"s":"e2","t":81,"v":1.44},{"s":"e2","t":83,"v":1.46},{"s":"e2","t":85,"v":1.48},
{"s":"e3","t":0,"v":0.58},{"s":"e3","t":1,"v":0.8},{"s":"e3","t":3,"v":0.92},{"s":"e3","t":5,"v":1.0},{"s":"e3","t":7,"v":1.05},{"s":"e3","t":9,"v":1.1},{"s":"e3","t":11,"v":1.15},{"s":"e3","t":13,"v":1.2},{"s":"e3","t":15,"v":1.22},{"s":"e3","t":17,"v":1.26},{"s":"e3","t":19,"v":1.27},{"s":"e3","t":22,"v":1.28},{"s":"e3","t":25,"v":1.27},{"s":"e3","t":28,"v":1.29},{"s":"e3","t":31,"v":1.28},{"s":"e3","t":34,"v":1.3},{"s":"e3","t":37,"v":1.28},{"s":"e3","t":40,"v":1.3},{"s":"e3","t":43,"v":1.32},{"s":"e3","t":46,"v":1.33},{"s":"e3","t":49,"v":1.35},{"s":"e3","t":52,"v":1.38},{"s":"e3","t":55,"v":1.4},{"s":"e3","t":58,"v":1.43},{"s":"e3","t":61,"v":1.45},{"s":"e3","t":64,"v":1.47},{"s":"e3","t":67,"v":1.48},{"s":"e3","t":70,"v":1.5},{"s":"e3","t":73,"v":1.49},{"s":"e3","t":76,"v":1.5},{"s":"e3","t":79,"v":1.5},{"s":"e3","t":82,"v":1.52},{"s":"e3","t":85,"v":1.53},{"s":"e3","t":88,"v":1.55},{"s":"e3","t":91,"v":1.56},{"s":"e3","t":94,"v":1.58},{"s":"e3","t":97,"v":1.6},{"s":"e3","t":100,"v":1.62},{"s":"e3","t":103,"v":1.6},{"s":"e3","t":106,"v":1.63},{"s":"e3","t":109,"v":1.66},{"s":"e3","t":112,"v":1.65},{"s":"e3","t":115,"v":1.68},{"s":"e3","t":118,"v":1.7},{"s":"e3","t":121,"v":1.72},{"s":"e3","t":124,"v":1.7},{"s":"e3","t":127,"v":1.69},{"s":"e3","t":130,"v":1.7},{"s":"e3","t":133,"v":1.68},{"s":"e3","t":135,"v":1.7},{"s":"e3","t":136,"v":1.62}
]
},
"vconcat":[
{"hconcat":[
{"width":545,"height":257,"title":{"text":"A","dx":-96},
"layer":[
{"data":{"name":"A"},"transform":[{"lookup":"s","from":{"data":{"name":"names"},"key":"s","fields":["name"]}}],
"mark":{"type":"line"},
"encoding":{
"x":{"field":"t","type":"quantitative","scale":{"domain":[-9.6,298.3],"nice":false,"zero":false},"axis":{"title":"simulation time (ns)","values":[0,10,20,30,40,50,60,70,80,90,100,110,120,130,140,150,160,170,180,190,200,210,220,230,240,250,260,270,280,290],"labelExpr":"datum.value % 20 === 0 ? datum.label : ''"}},
"y":{"field":"v","type":"quantitative","scale":{"domain":[-10,190],"nice":false,"zero":false},"axis":{"title":["U2585 orientation angle","(Degree)"],"titleLineHeight":27,"values":[0,15,30,45,60,75,90,105,120,135,150,165,180],"labelExpr":"datum.value % 30 === 0 ? datum.label : ''"}},
"color":{"field":"name","type":"nominal","scale":{"domain":["Drug free1 (273 ns)","Drug free2 (75 ns)","Drug free3 (70 ns)","ERY1 (205 ns)","ERY2 (85 ns)","ERY3 (136 ns)"],"range":["#3a8c2c","#5cb847","#a9d597","#24387e","#4a62c2","#a7b5e3"]},"legend":{"title":null,"orient":"none","legendX":383,"legendY":107}}
}},
{"data":{"values":[]},"mark":"point",
"encoding":{
"x":{"field":"t","type":"quantitative","scale":{"domain":[-9.6,298.3],"nice":false,"zero":false},"axis":{"orient":"top","labels":false,"title":null,"values":[0,10,20,30,40,50,60,70,80,90,100,110,120,130,140,150,160,170,180,190,200,210,220,230,240,250,260,270,280,290]}},
"y":{"field":"v","type":"quantitative","scale":{"domain":[-10,190],"nice":false,"zero":false},"axis":{"orient":"right","labels":false,"title":null,"values":[0,15,30,45,60,75,90,105,120,135,150,165,180]}}
}}
],
"resolve":{"axis":{"x":"independent","y":"independent"}}
},
{"width":540,"height":260,"title":{"text":"C","dx":-72},
"data":{"name":"table"},
"layer":[
{"transform":[{"filter":"datum.kind === 'title'"}],
"mark":{"type":"text","fontSize":22,"fontWeight":"bold","align":"center","baseline":"middle","color":"#111"},
"encoding":{"text":{"field":"label"},"y":{"field":"row","type":"ordinal","scale":{"type":"point","domain":["t1","t2","h","e1","e2","e3","gap","d1","d2","d3"],"range":[18,243],"padding":0},"axis":null}}},
{"transform":[{"filter":"datum.kind === 'head'"}],
"mark":{"type":"text","fontSize":24,"fontWeight":"bold","align":"center","baseline":"middle","dy":5,"color":"#111"},
"encoding":{"text":{"field":"label"},"x":{"field":"col","type":"nominal","scale":{"type":"point","domain":["U2585","A2602"],"range":[100,385],"padding":0},"axis":null},"y":{"field":"row","type":"ordinal","scale":{"type":"point","domain":["t1","t2","h","e1","e2","e3","gap","d1","d2","d3"],"range":[18,243],"padding":0},"axis":null}}},
{"transform":[{"filter":"datum.kind === 'ery'"}],
"mark":{"type":"text","fontSize":20.5,"align":"left","baseline":"middle","dx":-93,"dy":5,"color":"#222"},
"encoding":{"text":{"field":"label"},"x":{"field":"col","type":"nominal","scale":{"type":"point","domain":["U2585","A2602"],"range":[100,385],"padding":0},"axis":null},"y":{"field":"row","type":"ordinal","scale":{"type":"point","domain":["t1","t2","h","e1","e2","e3","gap","d1","d2","d3"],"range":[18,243],"padding":0},"axis":null}}},
{"transform":[{"filter":"datum.kind === 'free'"}],
"mark":{"type":"text","fontSize":20.5,"align":"left","baseline":"middle","dx":-93,"dy":1,"color":"#222"},
"encoding":{"text":{"field":"label"},"x":{"field":"col","type":"nominal","scale":{"type":"point","domain":["U2585","A2602"],"range":[100,385],"padding":0},"axis":null},"y":{"field":"row","type":"ordinal","scale":{"type":"point","domain":["t1","t2","h","e1","e2","e3","gap","d1","d2","d3"],"range":[18,243],"padding":0},"axis":null}}}
]
}
],"spacing":24,"resolve":{"scale":{"x":"independent","y":"independent","color":"independent"},"legend":{"color":"independent"}}},
{"hconcat":[
{"width":545,"height":259,"title":{"text":"B","dx":-100},
"layer":[
{"data":{"name":"B"},"transform":[{"lookup":"s","from":{"data":{"name":"names"},"key":"s","fields":["name"]}}],
"mark":{"type":"line"},
"encoding":{
"x":{"field":"t","type":"quantitative","scale":{"domain":[-8.1,288.1],"nice":false,"zero":false},"axis":{"title":"simulation time (ns)","labelPadding":11,"titlePadding":16,"values":[0,10,20,30,40,50,60,70,80,90,100,110,120,130,140,150,160,170,180,190,200,210,220,230,240,250,260,270,280],"labelExpr":"datum.value % 20 === 0 ? datum.label : ''"}},
"y":{"field":"v","type":"quantitative","scale":{"domain":[0,191],"nice":false,"zero":false},"axis":{"title":["A2602 orientation angle","(Degree)"],"titleLineHeight":27,"values":[0,15,30,45,60,75,90,105,120,135,150,165,180],"labelExpr":"datum.value % 30 === 0 ? datum.label : ''"}},
"color":{"field":"name","type":"nominal","scale":{"domain":["Drug free1 (273 ns)","Drug free2 (75 ns)","Drug free3 (70 ns)","ERY1 (205 ns)","ERY2 (85 ns)","ERY3 (136 ns)"],"range":["#3a8c2c","#5cb847","#a9d597","#24387e","#4a62c2","#a7b5e3"]},"legend":{"title":null,"orient":"none","legendX":374,"legendY":85,"labelOffset":13}}
}},
{"data":{"values":[]},"mark":"point",
"encoding":{
"x":{"field":"t","type":"quantitative","scale":{"domain":[-8.1,288.1],"nice":false,"zero":false},"axis":{"orient":"top","labels":false,"title":null,"values":[0,10,20,30,40,50,60,70,80,90,100,110,120,130,140,150,160,170,180,190,200,210,220,230,240,250,260,270,280]}},
"y":{"field":"v","type":"quantitative","scale":{"domain":[0,191],"nice":false,"zero":false},"axis":{"orient":"right","labels":false,"title":null,"values":[0,15,30,45,60,75,90,105,120,135,150,165,180]}}
}}
],
"resolve":{"axis":{"x":"independent","y":"independent"}}
},
{"width":527,"height":259,"title":{"text":"D","dx":-83},
"layer":[
{"data":{"name":"D"},"transform":[{"lookup":"s","from":{"data":{"name":"names"},"key":"s","fields":["name"]}}],
"mark":{"type":"line"},
"encoding":{
"x":{"field":"t","type":"quantitative","scale":{"domain":[-4.9,281.8],"nice":false,"zero":false},"axis":{"title":"simulation time (ns)","labelPadding":16,"titlePadding":1,"values":[0,10,20,30,40,50,60,70,80,90,100,110,120,130,140,150,160,170,180,190,200,210,220,230,240,250,260,270,280],"labelExpr":"datum.value % 20 === 0 ? datum.label : ''"}},
"y":{"field":"v","type":"quantitative","scale":{"domain":[0.2,2.21],"nice":false,"zero":false},"axis":{"title":"RMSD (Å)","labelPadding":11,"titlePadding":18,"values":[0.25,0.5,0.75,1,1.25,1.5,1.75,2],"labelExpr":"round(datum.value*4) % 2 === 0 ? format(datum.value, '.1f') : ''"}},
"color":{"field":"name","type":"nominal","scale":{"domain":["Drug free1 (273 ns)","Drug free2 (75 ns)","Drug free3 (70 ns)","ERY1 (205 ns)","ERY2 (85 ns)","ERY3 (136 ns)"],"range":["#3a8c2c","#5cb847","#a9d597","#24387e","#4a62c2","#a7b5e3"]},"legend":{"title":null,"orient":"none","legendX":317,"legendY":101,"labelOffset":16}}
}},
{"data":{"values":[]},"mark":"point",
"encoding":{
"x":{"field":"t","type":"quantitative","scale":{"domain":[-4.9,281.8],"nice":false,"zero":false},"axis":{"orient":"top","labels":false,"title":null,"values":[0,10,20,30,40,50,60,70,80,90,100,110,120,130,140,150,160,170,180,190,200,210,220,230,240,250,260,270,280]}},
"y":{"field":"v","type":"quantitative","scale":{"domain":[0.2,2.21],"nice":false,"zero":false},"axis":{"orient":"right","labels":false,"title":null,"values":[0.25,0.5,0.75,1,1.25,1.5,1.75,2]}}
}}
],
"resolve":{"axis":{"x":"independent","y":"independent"}}
}
],"spacing":24,"resolve":{"scale":{"x":"independent","y":"independent","color":"independent"},"legend":{"color":"independent"}}}
],
"spacing":15,
"resolve":{"scale":{"x":"independent","y":"independent","color":"independent"},"legend":{"color":"independent"}}
}
